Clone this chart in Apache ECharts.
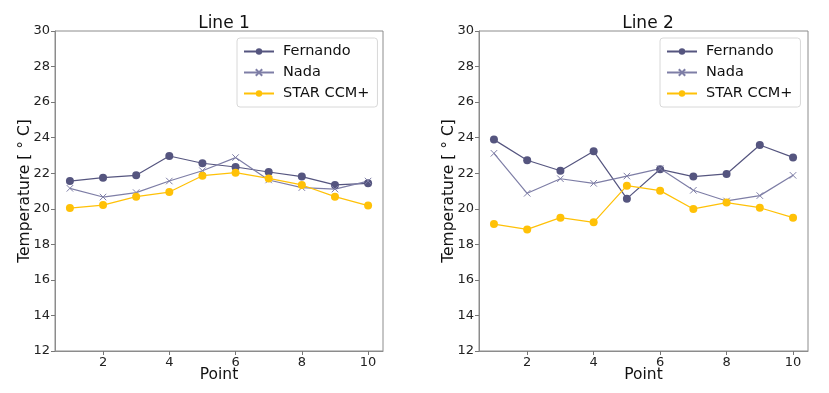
<!DOCTYPE html>
<html>
<head>
<meta charset="utf-8">
<script src="https://cdn.jsdelivr.net/npm/echarts@6/dist/echarts.min.js"></script>
<style>html,body{margin:0;padding:0;background:#fff}#c{width:829px;height:393px}</style>
</head>
<body>
<div id="c"></div>
<script>
const points = [1,2,3,4,5,6,7,8,9,10];
const xTicks = [2,4,6,8,10];
const seriesNames = ['Fernando','Nada','STAR CCM+'];
const titles = ['Line 1','Line 2'];
// Line 1
const line1Fernando = [21.56,21.75,21.88,22.97,22.56,22.35,22.07,21.81,21.34,21.43];
const line1Nada     = [21.15,20.66,20.91,21.56,22.14,22.88,21.62,21.19,21.11,21.56];
const line1Star     = [20.04,20.21,20.68,20.94,21.86,22.03,21.71,21.34,20.68,20.18];
// Line 2
const line2Fernando = [23.89,22.73,22.14,23.23,20.57,22.22,21.81,21.96,23.59,22.89];
const line2Nada     = [23.12,20.87,21.69,21.43,21.84,22.26,21.04,20.44,20.74,21.88];
const line2Star     = [19.14,18.84,19.50,19.24,21.30,21.02,19.99,20.35,20.06,19.50];

const FONT = 'DejaVu Sans';
const colors = {Fernando:'#55557f', Nada:'#7e7ea6', 'STAR CCM+':'#ffc107'};
const xMark = 'path://M0,0L10,10M10,0L0,10';

function pairs(arr){ return points.map((p,i)=>[p,arr[i]]); }

const grids = [
  {left:55, top:31, width:328, height:320, show:true, borderColor:'#8c8c8c', borderWidth:1, containLabel:false, outerBoundsMode:'none'},
  {left:479, top:31, width:329, height:320, show:true, borderColor:'#8c8c8c', borderWidth:1, containLabel:false, outerBoundsMode:'none'}
];
const xAxes = grids.map((g,i)=>({
  type:'value', gridIndex:i, min:0.55, max:10.45,
  name:'Point', nameLocation:'middle', nameGap:16, nameMoveOverlap:false,
  nameTextStyle:{fontFamily:FONT, fontSize:15.5, color:'#111'},
  axisLine:{show:true, onZero:false, lineStyle:{color:'#8c8c8c'}},
  axisTick:{show:true, length:4, customValues:xTicks, lineStyle:{color:'#777'}},
  axisLabel:{customValues:xTicks, fontFamily:FONT, fontSize:13, color:'#222', margin:5},
  splitLine:{show:false}
}));
const yAxes = grids.map((g,i)=>({
  type:'value', gridIndex:i, min:12, max:30, interval:2,
  name:'Temperature [ \u00b0 C]', nameLocation:'middle', nameGap:22, nameMoveOverlap:false,
  nameTextStyle:{fontFamily:FONT, fontSize:15.5, color:'#111'},
  axisLine:{show:true, onZero:false, lineStyle:{color:'#8c8c8c'}},
  axisTick:{show:true, length:4, lineStyle:{color:'#777'}},
  axisLabel:{fontFamily:FONT, fontSize:13, color:'#222', margin:5},
  splitLine:{show:false}
}));

const data = [
  [line1Fernando, line1Nada, line1Star],
  [line2Fernando, line2Nada, line2Star]
];
const series = [];
data.forEach((set,gi)=>{
  set.forEach((arr,si)=>{
    const name = seriesNames[si];
    const c = colors[name];
    const isX = name === 'Nada';
    series.push({
      type:'line', name, xAxisIndex:gi, yAxisIndex:gi, data:pairs(arr),
      symbol: isX ? xMark : 'circle',
      symbolSize: isX ? 6.5 : 8,
      showSymbol:true,
      lineStyle:{color:c, width:1.2},
      itemStyle: isX ? {color:'none', borderColor:c, borderWidth:1} : {color:c, borderWidth:0},
      emphasis:{disabled:true},
      animation:false
    });
  });
});

const legends = [
  {left:237, top:38},
  {left:660, top:38}
].map(p=>({
  left:p.left, top:p.top, orient:'vertical', data:seriesNames,
  itemWidth:30, itemHeight:8, itemGap:6,
  padding:[6,8,6,6],
  borderColor:'#d8d8d8', borderWidth:1, borderRadius:3, backgroundColor:'#fff',
  textStyle:{fontFamily:FONT, fontSize:14.5, color:'#111', padding:[0,0,0,4]},
  selectedMode:false
}));

const chart = echarts.init(document.getElementById('c'), null, {renderer:'canvas'});
chart.setOption({
  animation:false,
  title:[
    {text:titles[0], left:219, top:10, textAlign:'center', textStyle:{fontFamily:FONT, fontSize:17, fontWeight:'normal', color:'#111'}},
    {text:titles[1], left:643, top:10, textAlign:'center', textStyle:{fontFamily:FONT, fontSize:17, fontWeight:'normal', color:'#111'}}
  ],
  grid:grids, xAxis:xAxes, yAxis:yAxes, legend:legends, series
});
</script>
</body>
</html>
